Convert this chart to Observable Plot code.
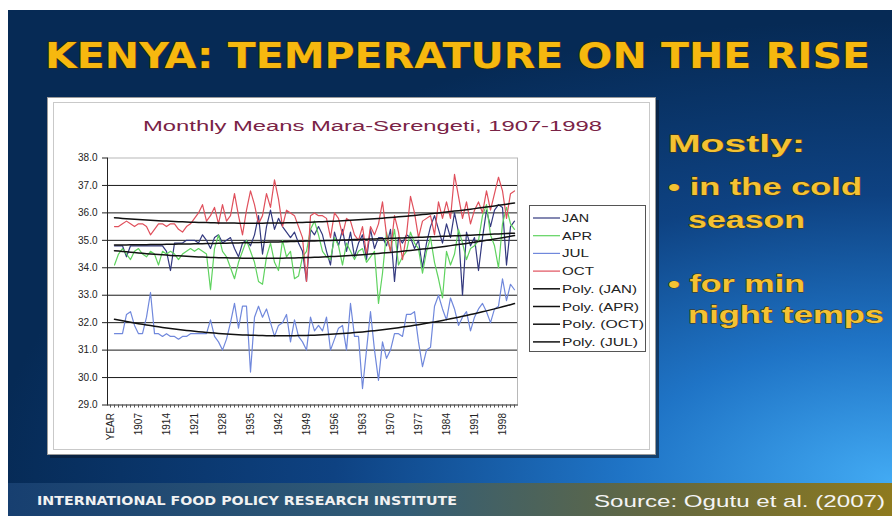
<!DOCTYPE html>
<html><head><meta charset="utf-8">
<script src="https://cdn.jsdelivr.net/npm/d3@7"></script>
<script src="https://cdn.jsdelivr.net/npm/@observablehq/plot@0.6"></script>
<style>
html,body{margin:0;padding:0;background:#fff;}
#stage{position:relative;width:892px;height:516px;overflow:hidden;}
#bg{position:absolute;left:0;top:0;}
#chart{position:absolute;left:54px;top:103px;}
</style></head><body>
<div id="stage">
<svg id="bg" width="892" height="516" xmlns="http://www.w3.org/2000/svg">
  <defs>
    <radialGradient id="slideGrad" gradientUnits="userSpaceOnUse" cx="0" cy="0" r="1" gradientTransform="translate(892,480) scale(900,460)">
      <stop offset="0" stop-color="#42aaf3"/>
      <stop offset="0.3" stop-color="#1f74c6"/>
      <stop offset="0.62" stop-color="#0e4282"/>
      <stop offset="1" stop-color="#062a55"/>
    </radialGradient>
    <linearGradient id="footGrad" x1="0" x2="1" y1="0" y2="0">
      <stop offset="0" stop-color="#173f70"/>
      <stop offset="0.45" stop-color="#335d76"/>
      <stop offset="0.75" stop-color="#66693e"/>
      <stop offset="1" stop-color="#8e7a1e"/>
    </linearGradient>
  </defs>
  <rect x="0" y="0" width="892" height="516" fill="#ffffff"/>
  <rect x="8" y="10" width="884" height="506" fill="url(#slideGrad)"/>
  <rect x="8" y="483" width="884" height="33" fill="url(#footGrad)"/>
  <text x="45" y="68" font-family="'DejaVu Sans Condensed','DejaVu Sans',sans-serif" font-weight="bold" font-size="35" textLength="825" lengthAdjust="spacingAndGlyphs" fill="#f6b80f" stroke="#3a2a00" stroke-width="1" paint-order="stroke">KENYA: TEMPERATURE ON THE RISE</text>
  <rect x="50" y="100" width="609" height="358" fill="#0a1a30" opacity="0.6"/>
  <rect x="47.5" y="97.5" width="608" height="357" fill="#ffffff" stroke="#9a9a9a"/>
  <rect x="53.5" y="102.5" width="596" height="347" fill="none" stroke="#c9c9c9"/>
  <text x="143" y="131" font-family="'Liberation Sans',Arial,sans-serif" font-size="15.5" textLength="459" lengthAdjust="spacingAndGlyphs" fill="#7a2346">Monthly Means Mara-Serengeti, 1907-1998</text>
  <g id="legend"></g>
  <g font-family="'Liberation Sans',Arial,sans-serif" font-weight="bold" font-size="24" fill="#f4c233" stroke="#4a3500" stroke-width="0.8" paint-order="stroke">
    <text x="668" y="152" textLength="137" lengthAdjust="spacingAndGlyphs">Mostly:</text>
    <text x="668" y="195" textLength="194" lengthAdjust="spacingAndGlyphs">• in the cold</text>
    <text x="688" y="228" textLength="117" lengthAdjust="spacingAndGlyphs">season</text>
    <text x="668" y="292" textLength="137" lengthAdjust="spacingAndGlyphs">• for min</text>
    <text x="688" y="323" textLength="196" lengthAdjust="spacingAndGlyphs">night temps</text>
  </g>
  <text x="37" y="505" font-family="'DejaVu Sans Condensed','DejaVu Sans',sans-serif" font-weight="bold" font-size="11.5" textLength="420" lengthAdjust="spacingAndGlyphs" fill="#f2f2f2">INTERNATIONAL FOOD POLICY RESEARCH INSTITUTE</text>
  <text x="594" y="507" font-family="'Liberation Sans',Arial,sans-serif" font-size="17" textLength="291" lengthAdjust="spacingAndGlyphs" fill="#f4f4f4">Source: Ogutu et al. (2007)</text>
</svg>
<div id="chart"></div>
</div>
<script>
// ---- data ----
const years = d3.range(1901, 2002); // category years 1901..2001
const jan = [
  34.8,34.8,34.8,34.4,34.8,34.8,34.8,34.8,34.8,34.8,
  34.8,34.8,34.8,34.6,33.9,34.9,34.9,34.9,35.0,35.0,
  35.0,34.9,35.2,35.0,34.7,35.1,35.2,34.9,35.0,35.1,
  34.7,34.4,34.9,35.0,34.8,35.2,35.9,34.5,35.5,36.1,
  35.4,35.8,35.5,35.3,35.1,35.3,34.9,34.6,33.5,35.4,
  35.2,35.5,35.2,34.6,34.1,35.3,34.8,35.4,34.6,35.3,
  34.4,34.9,35.2,34.3,35.4,34.7,35.1,35.1,34.8,35.4,
  33.5,35.1,34.9,35.2,35.1,34.7,35.0,34.0,34.9,35.5,
  35.9,35.4,34.9,35.6,35.1,36.0,35.3,33.0,35.3,34.8,
  35.1,33.9,35.1,36.1,35.5,36.1,36.3,36.2,34.1,35.5,
  35.7];
const apr = [
  34.1,34.5,34.7,34.5,34.3,34.6,34.7,34.5,34.4,34.6,
  34.5,34.1,34.6,34.5,34.6,34.5,34.3,34.5,34.6,34.7,
  34.6,34.7,34.6,34.5,33.2,34.7,35.2,34.6,34.4,34.0,
  33.6,34.2,34.6,35.0,34.6,34.2,33.5,33.4,34.4,34.9,
  34.2,33.9,35.0,34.4,34.6,33.6,33.7,34.4,34.6,35.4,
  35.7,35.2,34.6,34.4,34.3,35.1,34.8,34.1,34.9,34.6,
  34.3,34.6,34.7,34.2,34.4,34.6,32.7,33.8,35.3,34.6,
  35.4,34.1,34.4,34.6,35.3,34.9,34.7,33.8,34.6,35.1,
  34.2,33.6,32.9,34.6,34.1,34.5,35.4,34.9,34.3,34.7,
  34.8,35.0,35.9,36.3,35.2,34.8,34.0,35.6,36.2,35.6,
  35.4];
const jul = [
  31.6,31.6,31.6,32.3,32.4,31.9,31.6,31.6,32.2,33.1,
  31.6,31.6,31.5,31.6,31.5,31.5,31.4,31.5,31.5,31.6,
  31.6,31.6,31.6,31.6,32.1,31.5,31.3,31.0,31.4,32.0,
  32.7,31.8,32.6,32.6,30.2,32.2,32.6,32.2,32.5,32.0,
  31.5,31.9,32.0,32.3,31.3,32.1,31.5,31.3,31.0,32.2,
  31.7,31.9,31.7,32.2,31.0,31.4,31.8,31.9,31.0,32.7,
  31.5,31.5,29.6,31.0,32.4,31.0,29.9,31.3,30.7,31.0,
  31.6,31.6,31.5,32.3,32.3,32.4,31.3,30.4,31.0,31.1,
  32.6,33.0,32.5,32.1,32.9,32.5,31.9,32.2,32.4,31.7,
  32.2,32.5,32.7,32.4,32.0,32.5,32.6,33.6,32.8,33.4,
  33.2];
const oct = [
  35.5,35.5,35.6,35.7,35.6,35.5,35.6,35.6,35.5,35.2,
  35.4,35.6,35.6,35.5,35.6,35.6,35.4,35.3,35.5,35.6,
  35.8,36.0,36.3,35.7,35.9,36.2,35.6,36.3,35.7,35.9,
  36.7,35.9,35.2,36.1,36.8,36.3,35.6,35.9,36.7,36.2,
  37.2,36.5,35.5,36.1,36.0,35.9,35.5,35.1,33.5,35.9,
  36.0,35.9,35.9,35.8,35.1,36.0,35.8,35.2,35.8,35.7,
  35.2,35.0,35.5,34.5,35.5,35.2,35.6,36.4,35.2,34.6,
  35.9,35.3,34.3,35.2,36.6,36.0,35.1,35.7,35.8,35.9,
  35.2,36.4,35.8,36.4,35.8,37.4,36.6,35.8,36.4,35.6,
  36.1,36.4,36.0,36.8,36.1,36.7,37.3,36.8,35.8,36.7,
  36.8];
const seriesNames = ["JAN", "APR", "JUL", "OCT"];
const seriesColors = ["#33397f", "#5fd35f", "#7088dc", "#e0505c"];
const trendNames = ["Poly. (JAN)", "Poly. (APR)", "Poly. (OCT)", "Poly. (JUL)"];
const xTickLabels = ["YEAR","1907","1914","1921","1928","1935","1942","1949","1956","1963","1970","1977","1984","1991","1998"];
const yTicks = [29,30,31,32,33,34,35,36,37,38];
const yGrid = [30,31,32,33,34,35,36,37];

// ---- build tables ----
const categories = ["YEAR", ...years.map(String)];
const seriesVals = {JAN: jan, APR: apr, JUL: jul, OCT: oct};
const rows = [];
seriesNames.forEach(s => seriesVals[s].forEach((v, i) => rows.push({cat: String(years[i]), v, s})));

// second-order polynomial least-squares trend (as Excel "Poly." trendline)
function polyTrend(vals) {
  const n = vals.length, m = (n - 1) / 2;
  let S = [0,0,0,0,0], T = [0,0,0];
  vals.forEach((y, i) => {
    const x = i - m;
    let p = 1;
    for (let k = 0; k < 5; k++) { S[k] += p; if (k < 3) T[k] += p * y; p *= x; }
  });
  const A = [[S[0],S[1],S[2]],[S[1],S[2],S[3]],[S[2],S[3],S[4]]];
  const det = M => M[0][0]*(M[1][1]*M[2][2]-M[1][2]*M[2][1]) - M[0][1]*(M[1][0]*M[2][2]-M[1][2]*M[2][0]) + M[0][2]*(M[1][0]*M[2][1]-M[1][1]*M[2][0]);
  const D = det(A);
  const c = [0,1,2].map(j => det(A.map((r, i) => r.map((v, k) => k === j ? T[i] : v))) / D);
  return vals.map((_, i) => { const x = i - m; return c[0] + c[1]*x + c[2]*x*x; });
}
const trendRows = [];
[["JAN", "Poly. (JAN)"], ["APR", "Poly. (APR)"], ["OCT", "Poly. (OCT)"], ["JUL", "Poly. (JUL)"]].forEach(([s, t]) => {
  polyTrend(seriesVals[s]).forEach((v, i) => trendRows.push({cat: String(years[i]), v, s: t}));
});

const colorMap = Object.fromEntries(seriesNames.map((s, i) => [s, seriesColors[i]]));

const chart = Plot.plot({
  width: 595, height: 346,
  marginLeft: 53, marginRight: 132, marginTop: 54.5, marginBottom: 44.5,
  style: {background: "transparent", fontFamily: "'Liberation Sans',Arial,sans-serif", overflow: "visible", color: "#222"},
  x: {type: "point", domain: categories, padding: 0.5, label: null},
  y: {domain: [29, 38], label: null},
  marks: [
    Plot.frame({stroke: "#b8b8b8"}),
    Plot.gridY(yGrid, {stroke: "#1a1a1a", strokeOpacity: 1}),
    ...seriesNames.map(s => Plot.line(rows.filter(d => d.s === s), {x: "cat", y: "v", stroke: colorMap[s], strokeWidth: 1.2})),
    ...trendNames.map(t => Plot.line(trendRows.filter(d => d.s === t), {x: "cat", y: "v", stroke: "#111", strokeWidth: 1.5})),
    Plot.frame({anchor: "left", stroke: "#222"}),
    Plot.frame({anchor: "bottom", stroke: "#444"}),
    Plot.axisY({ticks: yTicks, tickFormat: d => d.toFixed(1), tickSize: 5, tickPadding: 5, fontSize: 10, stroke: "#222", label: null}),
    Plot.axisX({ticks: categories, tickSize: 3, tickFormat: () => "", stroke: "#555", label: null}),
    Plot.axisX({ticks: xTickLabels, tickSize: 0, tickPadding: 8, tickRotate: -90, fontSize: 10, label: null})
  ]
});
document.getElementById("chart").appendChild(chart);

// ---- legend ----
const legendItems = [
  ...seriesNames.map((s, i) => ({label: s, color: seriesColors[i], w: 1.2})),
  ...trendNames.map(t => ({label: t, color: "#111", w: 1.5}))
];
const legendWidths = [27, 30, 27, 32, 75, 77, 82, 76];
const lg = d3.select("#legend");
lg.append("rect").attr("x", 529.5).attr("y", 205.5).attr("width", 116).attr("height", 146)
  .attr("fill", "#fff").attr("stroke", "#555");
legendItems.forEach((d, i) => {
  const y = 218 + i * 17.7;
  lg.append("line").attr("x1", 533).attr("x2", 560).attr("y1", y).attr("y2", y)
    .attr("stroke", d.color).attr("stroke-width", d.w);
  lg.append("text").attr("x", 562).attr("y", y + 4)
    .attr("font-family", "'Liberation Sans',Arial,sans-serif").attr("font-size", 11.5)
    .attr("fill", "#222").attr("textLength", legendWidths[i]).attr("lengthAdjust", "spacingAndGlyphs")
    .text(d.label);
});
</script>
</body></html>
